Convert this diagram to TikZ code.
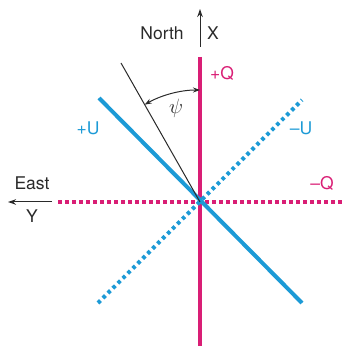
\documentclass[tikz,border=0pt]{standalone}
\usepackage{fontspec}
\setmainfont{TeX Gyre Heros}
\usetikzlibrary{arrows.meta}
\definecolor{qmag}{HTML}{D91E75}
\definecolor{ublue}{HTML}{1C9AD6}
\definecolor{ink}{HTML}{2A2A2A}
\begin{document}
\begin{tikzpicture}[x=1pt,y=1pt,every node/.style={font=\fontsize{17.5}{20}\selectfont,inner sep=0pt,text=ink},
  qline/.style={qmag,line width=4pt},
  uline/.style={ublue,line width=4pt},
  dots/.style={dash pattern=on 3.5pt off 3.5pt},
  axis/.style={ink,line width=1pt,-{Stealth[length=8pt,width=5.5pt]}}]
\useasboundingbox (0,0) rectangle (345,346);
\coordinate (O) at (200,144);
\coordinate (qtop) at (200,289);
\coordinate (qbot) at (200,0);
\coordinate (qleft) at (58,144);
\coordinate (qright) at (345,144);
\coordinate (utl) at (99,248);
\coordinate (ubr) at (302,43);
\coordinate (ubl) at (98,43);
\coordinate (utr) at (302,246);
\coordinate (psitop) at (121,283);
\coordinate (xfoot) at (200,299);
\coordinate (xtip) at (200,337);
\coordinate (yfoot) at (52,144);
\coordinate (ytip) at (8,144);
\draw[qline] (qtop) -- (qbot);
\draw[qline,dots] (qleft) -- (qright);
\draw[uline] (utl) -- (ubr);
\draw[uline,dots] (ubl) -- (utr);
\draw[ink,line width=1pt] (O) -- (psitop);
\draw[ink,line width=1pt,{Stealth[length=7pt,width=5pt]}-{Stealth[length=7pt,width=5pt]}]
  (O) ++(119.6:112) arc[start angle=119.6,end angle=90,radius=112];
\draw[axis] (xfoot) -- (xtip);
\draw[axis] (yfoot) -- (ytip);
\node (north) at (162,313) {North};
\node (xlab) at (213,313) {X};
\node (east) at (32,163) {East};
\node (ylab) at (32,130) {Y};
\node[font=\fontsize{22}{24}\selectfont] (psi) at (176,238) {$\psi$};
\node[text=qmag] (qplus) at (222,273) {+Q};
\node[text=qmag] (qminus) at (322,163) {–Q};
\node[text=ublue] (uplus) at (88,218) {+U};
\node[text=ublue] (uminus) at (301,218) {–U};
\end{tikzpicture}
\end{document}
